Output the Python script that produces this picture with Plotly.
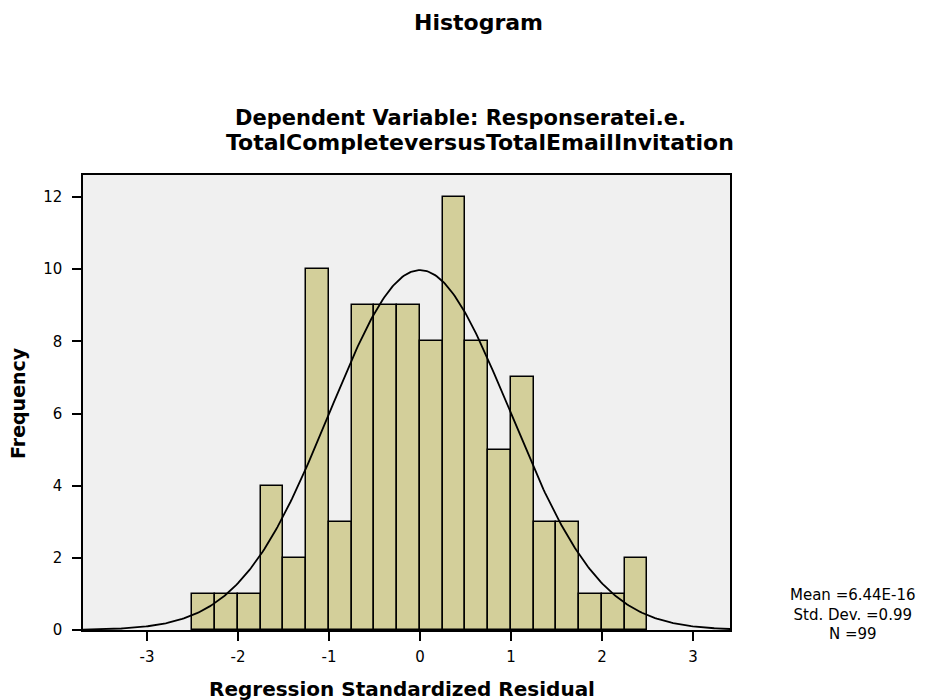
import numpy as np
import plotly.graph_objects as go

# ---- data ----
bin_left = [-2.5, -2.25, -2.0, -1.75, -1.5, -1.25, -1.0, -0.75, -0.5, -0.25,
            0.0, 0.25, 0.5, 0.75, 1.0, 1.25, 1.5, 1.75, 2.0, 2.25]
bin_width = 0.25
counts = [1, 1, 1, 4, 2, 10, 3, 9, 9, 9, 8, 12, 8, 5, 7, 3, 3, 1, 1, 2]
x_ticks = [-3, -2, -1, 0, 1, 2, 3]
x_ticktext = ["-3", "-2", "-1", "0", "1", "2", "3"]
y_ticks = [0, 2, 4, 6, 8, 10, 12]
stat_mean = 6.44e-16
stat_sd = 0.99
stat_n = 99
stat_lines = ["Mean =6.44E-16", "Std. Dev. =0.99", "N =99"]

# page body has an 8px margin, so the figure is sized to fit the window
OFF = 8
WIN_W, WIN_H = 930, 700
W, H = WIN_W - OFF, WIN_H - OFF
PL, PR, PT, PB = 83, 730, 175, 630          # plot area in window pixels
L, T = PL - OFF, PT - OFF
R, B = WIN_W - PR, WIN_H - PB
PW, PH = PR - PL, PB - PT

def px(x):
    return (x - PL) / PW

def py(y):
    return (PB - y) / PH

centers = [b + bin_width / 2 for b in bin_left]

# fitted normal curve (from mean, sd, N and bin width)
xc = np.linspace(-3.75, 3.45, 400)
yc = stat_n * bin_width / (stat_sd * np.sqrt(2 * np.pi)) * np.exp(-0.5 * ((xc - stat_mean) / stat_sd) ** 2)

fig = go.Figure()
fig.add_trace(go.Bar(x=centers, y=counts, width=bin_width,
                     marker=dict(color="#D3CF9A", line=dict(color="black", width=1.5)),
                     showlegend=False, hoverinfo="x+y"))
fig.add_trace(go.Scatter(x=xc, y=yc, mode="lines", line=dict(color="black", width=1.8),
                         showlegend=False, hoverinfo="skip"))

F = "DejaVu Sans"
ann = []
ann.append(dict(text="<b>Histogram</b>", x=px(478), y=py(22), font=dict(family=F, size=22, color="black")))
ann.append(dict(text="<b>Dependent Variable: Responseratei.e.</b>", x=px(460), y=py(118),
                font=dict(family=F, size=21, color="black")))
ann.append(dict(text="<b>TotalCompleteversusTotalEmailInvitation</b>", x=px(480), y=py(142),
                font=dict(family=F, size=22, color="black")))
ann.append(dict(text="<b>Frequency</b>", x=px(18), y=py(403), textangle=-90,
                font=dict(family=F, size=19, color="black")))
ann.append(dict(text="<b>Regression Standardized Residual</b>", x=px(402), y=py(689),
                font=dict(family=F, size=20, color="black")))
ann.append(dict(text="<br>".join(stat_lines), x=px(853), y=py(614),
                font=dict(family=F, size=15, color="black")))
for a in ann:
    a.update(xref="paper", yref="paper", showarrow=False, xanchor="center", yanchor="middle")

fig.update_layout(
    width=W, height=H,
    margin=dict(l=L, r=R, t=T, b=B, autoexpand=False),
    paper_bgcolor="white", plot_bgcolor="#F0F0F0",
    bargap=0, annotations=ann,
    font=dict(family=F, color="black"),
)
fig.update_xaxes(range=[-3.703, 3.407], tickvals=x_ticks, ticktext=x_ticktext, ticks="outside", ticklen=9,
                 tickwidth=1.5, tickcolor="black", showgrid=False, zeroline=False,
                 showline=True, linecolor="black", linewidth=1.5, mirror=True,
                 ticklabelstandoff=3,
                 tickfont=dict(family=F, size=15, color="black"))
fig.update_yaxes(range=[0, 12.61], tickvals=y_ticks, ticks="outside", ticklen=9,
                 tickwidth=1.5, tickcolor="black", showgrid=False, zeroline=False,
                 showline=True, linecolor="black", linewidth=1.5, mirror=True,
                 ticklabelstandoff=7,
                 tickfont=dict(family=F, size=15, color="black"))

fig.write_html("out.html")
